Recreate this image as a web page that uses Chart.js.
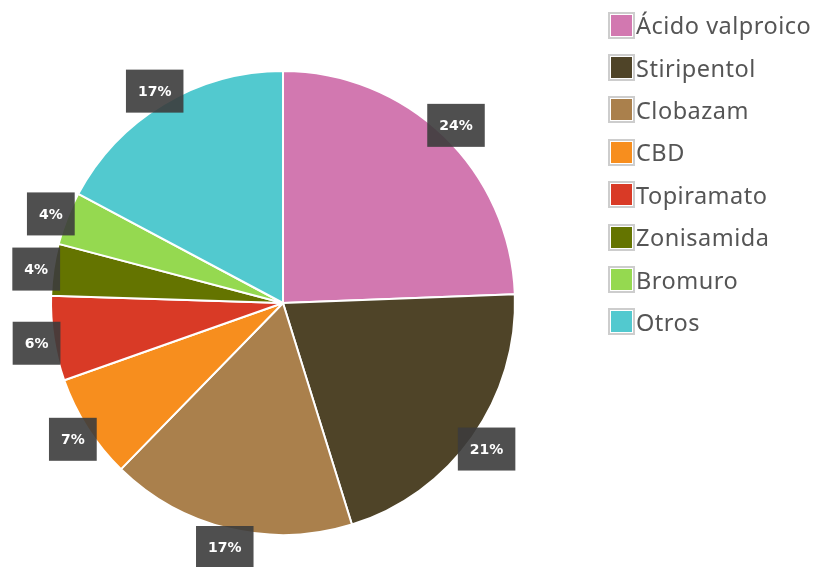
<!DOCTYPE html>
<html>
<head>
<meta charset="utf-8">
<script src="https://cdn.jsdelivr.net/npm/chart.js@4"></script>
<style>
  html, body { margin: 0; padding: 0; background: #fff; }
  #wrap { position: relative; width: 819px; height: 567px; }
  #legend { position: absolute; left: 608px; top: 4px; font-family: "Noto Sans", "Open Sans", sans-serif; font-size: 23.5px; letter-spacing: 0.5px; color: #555; }
  .item { height: 42.4px; display: flex; align-items: center; white-space: nowrap; }
  .sw { width: 21px; height: 21px; border: 2px solid #cdcdcd; padding: 1px; background-clip: content-box; margin-right: 1px; box-sizing: content-box; }
</style>
</head>
<body>
<div id="wrap">
  <canvas id="c" width="819" height="567"></canvas>
  <div id="legend"></div>
</div>
<script>
const categories = ["Ácido valproico", "Stiripentol", "Clobazam", "CBD", "Topiramato", "Zonisamida", "Bromuro", "Otros"];
const values = [24.4, 20.8, 17.1, 7.3, 5.9, 3.6, 3.7, 17.2];
const colors = ["#D278B0", "#4F4428", "#AA804C", "#F78E1E", "#D93A26", "#647400", "#95D950", "#52C9CF"];

const legend = document.getElementById('legend');
categories.forEach((c, i) => {
  const d = document.createElement('div');
  d.className = 'item';
  d.innerHTML = '<span class="sw" style="background-color:' + colors[i] + '"></span><span>' + c + '</span>';
  legend.appendChild(d);
});

const labelPlugin = {
  id: 'boxLabels',
  afterDatasetsDraw(chart) {
    const ctx = chart.ctx;
    const meta = chart.getDatasetMeta(0);
    const total = values.reduce((a, b) => a + b, 0);
    ctx.save();
    ctx.font = 'bold 14px "DejaVu Sans", sans-serif';
    ctx.textAlign = 'center';
    ctx.textBaseline = 'middle';
    meta.data.forEach((arc, i) => {
      const mid = (arc.startAngle + arc.endAngle) / 2;
      const r = arc.outerRadius * 1.075;
      const x = arc.x + Math.cos(mid) * r;
      const y = arc.y + Math.sin(mid) * r + 2;
      const txt = Math.round(values[i] / total * 100) + '%';
      const w = ctx.measureText(txt).width + 24;
      const h = 43;
      ctx.fillStyle = 'rgba(60,60,60,0.9)';
      ctx.fillRect(x - w / 2, y - h / 2, w, h);
      ctx.fillStyle = '#fff';
      ctx.fillText(txt, x, y + 1);
    });
    ctx.restore();
  }
};

new Chart(document.getElementById('c'), {
  type: 'pie',
  data: {
    labels: categories,
    datasets: [{
      data: values,
      backgroundColor: colors,
      borderColor: '#ffffff',
      borderWidth: 2
    }]
  },
  options: {
    responsive: false,
    animation: false,
    layout: { padding: { left: 50, right: 303, top: 70, bottom: 31 } },
    plugins: {
      legend: { display: false },
      tooltip: { enabled: false }
    }
  },
  plugins: [labelPlugin]
});
</script>
</body>
</html>
